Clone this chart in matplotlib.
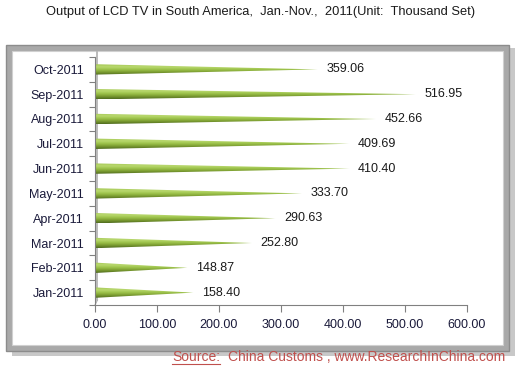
import numpy as np
import matplotlib.pyplot as plt
from matplotlib.patches import Polygon, FancyBboxPatch, Rectangle
from matplotlib.colors import LinearSegmentedColormap
from matplotlib.lines import Line2D

months = ["Jan-2011", "Feb-2011", "Mar-2011", "Apr-2011", "May-2011",
          "Jun-2011", "Jul-2011", "Aug-2011", "Sep-2011", "Oct-2011"]
output = [158.40, 148.87, 252.80, 290.63, 333.70,
          410.40, 409.69, 452.66, 516.95, 359.06]
xticks = [0, 100, 200, 300, 400, 500, 600]

plt.rcParams['font.family'] = ['Liberation Sans', 'DejaVu Sans']

fig = plt.figure(figsize=(5.21, 3.70), dpi=100)

# frame with gray border and shadow
shadow = FancyBboxPatch((12 / 521, 1 - 356 / 370), 503 / 521, 308 / 370,
                        boxstyle="square,pad=0", transform=fig.transFigure,
                        facecolor="#c8c8c8", edgecolor="none", zorder=0)
fig.patches.append(shadow)
frame = FancyBboxPatch((6 / 521, 1 - 351 / 370), 503 / 521, 306 / 370,
                       boxstyle="square,pad=0", transform=fig.transFigure,
                       facecolor="#a9a9a9", edgecolor="#8c8c8c", lw=1, zorder=1)
fig.patches.append(frame)
inner = Rectangle((12 / 521, 1 - 345 / 370), 491 / 521, 294 / 370,
                  transform=fig.transFigure, facecolor="white",
                  edgecolor="#d0d0d0", lw=0.8, zorder=2)
fig.patches.append(inner)

ax = fig.add_axes([95 / 521, 1 - 305 / 370, 372 / 521, 248 / 370])
ax.set_zorder(3)
ax.patch.set_alpha(0)

cmap = LinearSegmentedColormap.from_list(
    "cone", ["#4f6b1f", "#7a9a30", "#9cc24a", "#b9d86e", "#a6c957"])
grad = np.linspace(0, 1, 64).reshape(-1, 1)
h = 0.21
for i, v in enumerate(output):
    tri = Polygon([[0, i - h], [0, i + h], [v, i]], closed=True,
                  facecolor="none", edgecolor="none")
    ax.add_patch(tri)
    im = ax.imshow(grad, cmap=cmap, aspect="auto", origin="lower",
                   extent=[0, v, i - h, i + h], zorder=2)
    im.set_clip_path(tri)
    ax.text(v + 14, i, f"{v:.2f}", va="center", ha="left",
            fontsize=9, color="#1a1a1a")

ax.set_xlim(0, 600)
ax.set_ylim(-0.5, len(months) - 0.5)
ax.set_xticks(xticks)
ax.set_xticklabels([f"{t:.2f}" for t in xticks], fontsize=9, color="#1a1a3a")
ax.set_yticks(np.arange(len(months) + 1) - 0.5, minor=False)
ax.set_yticklabels([""] * (len(months) + 1))
ax.set_yticks(np.arange(len(months)), minor=True)
ax.set_yticklabels(months, minor=True, fontsize=9, color="#1a1a3a")
ax.tick_params(axis="y", which="minor", length=0, pad=8)
ax.tick_params(axis="y", which="major", length=4, color="#808080")
ax.tick_params(axis="x", length=5, color="#808080", pad=5)
for s in ["top", "right"]:
    ax.spines[s].set_visible(False)
for s in ["left", "bottom"]:
    ax.spines[s].set_color("#808080")
# wall line of the 3D look
ax.plot([4, 4], [-0.3, len(months) - 0.3], color="#b0b0b0", lw=1.2,
        zorder=1, clip_on=False)
ax.plot([0, 4], [-0.5, -0.3], color="#b0b0b0", lw=0.8, zorder=1, clip_on=False)

fig.text(0.5, 1 - 12 / 370, "Output of LCD TV in South America,  Jan.-Nov.,  2011(Unit:  Thousand Set)",
         ha="center", va="center", fontsize=9.3, color="#1a1a1a")

src_y = 1 - 357 / 370
t1 = fig.text(172 / 521, src_y, "Source:", ha="left", va="center",
              fontsize=10, color="#c0504d")
fig.canvas.draw()
bb = t1.get_window_extent().transformed(fig.transFigure.inverted())
fig.text(bb.x1 + 8 / 521, src_y, "China Customs , www.ResearchInChina.com",
         ha="left", va="center", fontsize=10, color="#c0504d")
fig.lines.append(Line2D([bb.x0, bb.x1], [bb.y0 + 0.5 / 370, bb.y0 + 0.5 / 370],
                        transform=fig.transFigure, color="#c0504d", lw=0.8))

fig.savefig("out.png", dpi=100)
